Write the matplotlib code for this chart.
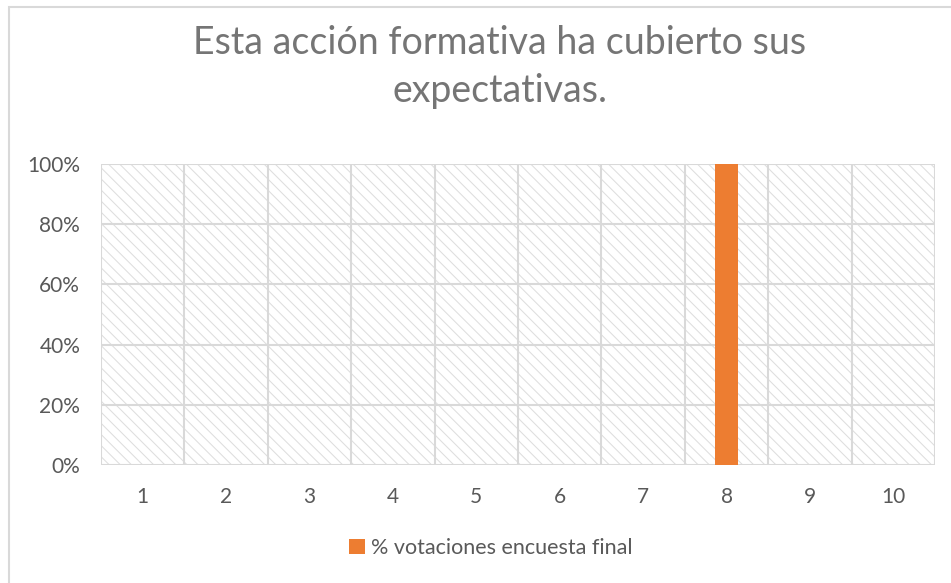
import matplotlib

matplotlib.use("Agg")
import matplotlib.pyplot as plt
from matplotlib.patches import Rectangle
from matplotlib.ticker import PercentFormatter

# Survey result: share of votes per score (1-10)
scores = ["1", "2", "3", "4", "5", "6", "7", "8", "9", "10"]
vote_share = [0, 0, 0, 0, 0, 0, 0, 1.0, 0, 0]
y_ticks = [0, 0.2, 0.4, 0.6, 0.8, 1.0]

TITLE = "Esta acción formativa ha cubierto sus\nexpectativas."
SERIES = "% votaciones encuesta final"

BAR_COLOR = "#ED7D31"
GRID_COLOR = "#D9D9D9"
TEXT_COLOR = "#595959"
TITLE_COLOR = "#757575"

plt.rcParams["font.family"] = ["Lato", "DejaVu Sans"]
plt.rcParams["hatch.linewidth"] = 0.75

W, H = 951, 583
fig = plt.figure(figsize=(W / 100, H / 100), dpi=100)

# chart border (runs off the right and bottom edges)
fig.add_artist(
    Rectangle(
        (8.5 / W, -0.05), 1.1, 1 - 6.5 / H + 0.05,
        transform=fig.transFigure, fill=False, edgecolor=GRID_COLOR, lw=1.5,
    )
)

ax = fig.add_axes([101 / W, 1 - 465 / H, (935 - 101) / W, (465 - 164) / H])

# hatched plot area background
ax.add_patch(
    Rectangle(
        (0, 0), 1, 1, transform=ax.transAxes, facecolor="white",
        edgecolor="#DEDEDE", hatch="\\\\\\", lw=0, zorder=0,
    )
)

x = list(range(1, len(scores) + 1))
ax.bar(x, vote_share, width=0.27, color=BAR_COLOR, zorder=3, label=SERIES)

ax.set_xlim(0.5, len(scores) + 0.5)
ax.set_ylim(0, 1.0)
ax.set_yticks(y_ticks)
ax.yaxis.set_major_formatter(PercentFormatter(1.0, decimals=0))
ax.set_xticks(x)
ax.set_xticklabels(scores)

# gridlines: category boundaries and value ticks
for b in range(len(scores) + 1):
    ax.axvline(b + 0.5, color=GRID_COLOR, lw=1.5, zorder=1)
for t in y_ticks:
    ax.axhline(t, color=GRID_COLOR, lw=1.5, zorder=1)

for s in ax.spines.values():
    s.set_visible(False)
ax.tick_params(axis="both", length=0, labelsize=15, colors=TEXT_COLOR)
ax.tick_params(axis="x", pad=16)
ax.tick_params(axis="y", pad=15)

fig.text(500 / W, 1 - 67 / H, TITLE, ha="center", va="center",
         fontsize=27, color=TITLE_COLOR, linespacing=1.42)

ax.legend(
    loc="center", bbox_to_anchor=(491 / W, 1 - 548 / H),
    bbox_transform=fig.transFigure, frameon=False, fontsize=15.5,
    labelcolor=TEXT_COLOR, handlelength=0.7, handleheight=0.7, handletextpad=0.3,
)

fig.savefig("out.png", dpi=100)
